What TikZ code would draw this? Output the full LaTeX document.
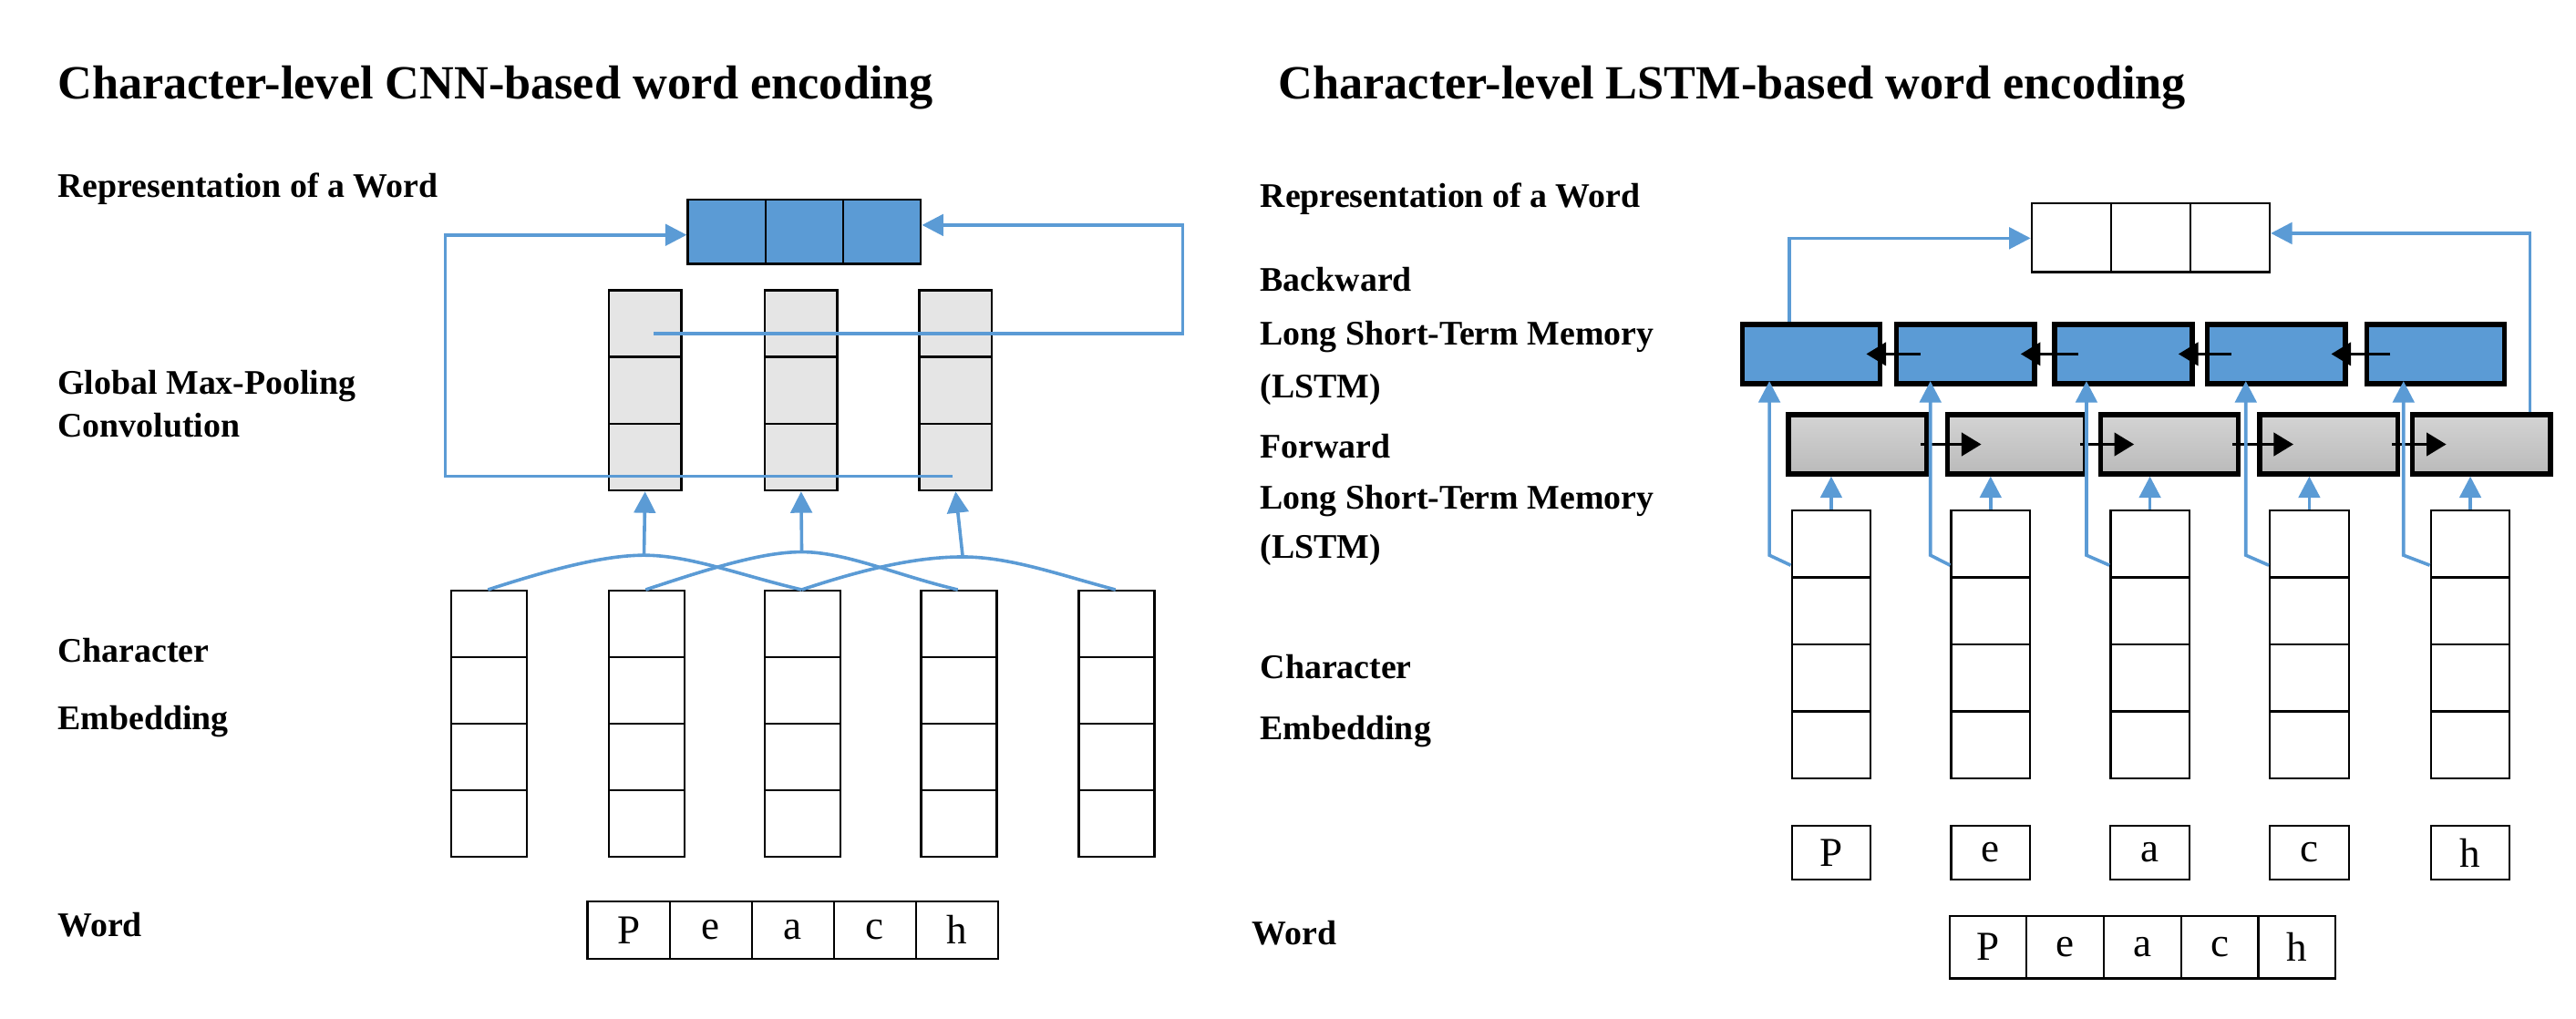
\documentclass[tikz,border=0pt]{standalone}
\usepackage{fontspec}
\setmainfont{Liberation Serif}
\usetikzlibrary{arrows.meta}
\definecolor{bl}{HTML}{5B9BD5}
\begin{document}
\begin{tikzpicture}[x=1pt,y=-1pt,
  cell/.style={draw=black,line width=1.3pt,minimum width=#1,minimum height=40.5pt,inner sep=0pt,anchor=north west},
  lbl/.style={anchor=base west,font=\fontsize{21}{24}\selectfont\bfseries,inner sep=0pt},
  ttl/.style={anchor=base west,font=\fontsize{29}{32}\selectfont\bfseries,inner sep=0pt},
  ch/.style={draw=black,line width=1.2pt,anchor=north west,inner sep=0pt,font=\fontsize{25}{28}\selectfont},
  blu/.style={draw=bl,line width=2pt},
  barr/.style={blu,-{Triangle[width=13pt,length=13pt]}},
  karr/.style={draw=black,line width=2pt,-{Triangle[width=14pt,length=12pt]}},
  lstm/.style={draw=black,line width=3pt,anchor=north west,inner sep=0pt,minimum height=36pt,minimum width=84pt}]
\useasboundingbox (0,0) rectangle (1568,620);
% ---------- left ----------
\node[ttl] (t1) at (35,60) {Character-level CNN-based word encoding};
\node[lbl] (l1) at (35,120) {Representation of a Word};
\node[lbl] (l2) at (35,240) {Global Max-Pooling};
\node[lbl] (l3) at (35,266) {Convolution};
\node[lbl] (l4) at (35,403) {Character};
\node[lbl] (l5) at (35,444) {Embedding};
\node[lbl] (l6) at (35,570) {Word};
% rep box
\foreach \i in {0,1,2}{\node[cell=47.3pt,minimum height=39pt,fill=bl] (rA\i) at (418+47.3*\i,121) {};}
% conv columns
\foreach \c/\x in {0/370,1/465,2/559}{
  \foreach \j in {0,1,2}{\node[cell=44pt,fill=black!10] (cv\c\j) at (\x,176+40.7*\j) {};}}
% char embedding left
\foreach \c/\x in {0/274,1/370,2/465,3/560,4/656}{
  \foreach \j in {0,1,2,3}{\node[cell=46pt] (ce\c\j) at (\x,359+40.5*\j) {};}}
% word box
\foreach \i/\t in {0/P,1/e,2/a,3/c,4/h}{\node[ch,minimum width=50pt,minimum height=35pt] (wA\i) at (357+50*\i,548) {\t};}
% curves
\coordinate (k0) at (297,359); \coordinate (k1) at (393,359); \coordinate (k2) at (488,359);
\coordinate (k3) at (583,359); \coordinate (k4) at (679,359);
\coordinate (p0) at (392,338); \coordinate (p1) at (488,336); \coordinate (p2) at (586,339);
\draw[blu] (k0) .. controls (340,345) and (370,338) .. (p0) .. controls (420,338) and (450,350) .. (k2);
\draw[blu] (k1) .. controls (435,345) and (465,336) .. (p1) .. controls (515,336) and (545,350) .. (k3);
\draw[blu] (k2) .. controls (530,345) and (560,339) .. (p2) .. controls (615,339) and (645,350) .. (k4);
\draw[barr] (p0) -- (cv02.south);
\draw[barr] (p1) -- (cv12.south);
\draw[barr] (p2) -- (cv22.south);
% loops
\coordinate (a1) at (398,203); \coordinate (a2) at (580,290);
\draw[barr] (a1) -- (720,203) -- (720,137) -- (rA2.east |- 0,137);
\draw[barr] (a2) -- (271,290) -- (271,143) -- (rA0.west |- 0,143);
% ---------- right ----------
\node[ttl] (t2) at (778,60) {Character-level LSTM-based word encoding};
\node[lbl] (m1) at (767,126) {Representation of a Word};
\node[lbl] (m2) at (767,177) {Backward};
\node[lbl] (m3) at (767,210) {Long Short-Term Memory};
\node[lbl] (m4) at (767,242) {(LSTM)};
\node[lbl] (m5) at (767,279) {Forward};
\node[lbl] (m6) at (767,310) {Long Short-Term Memory};
\node[lbl] (m7) at (767,340) {(LSTM)};
\node[lbl] (m8) at (767,413) {Character};
\node[lbl] (m9) at (767,450) {Embedding};
\node[lbl] (m10) at (762,575) {Word};
\foreach \i in {0,1,2}{\node[cell=48.3pt,minimum height=42pt,fill=white] (rB\i) at (1236+48.3*\i,123) {};}
% backward
\foreach \i/\x in {0/1059,1/1153,2/1249,3/1342,4/1439}{\node[lstm,fill=bl] (bw\i) at (\x,196) {};}
% forward
\foreach \i/\x in {0/1087,1/1184,2/1277,3/1374,4/1467}{\node[lstm,top color=black!17,bottom color=black!27] (fw\i) at (\x,251) {};}
% char columns right
\foreach \c/\x in {0/1090,1/1187,2/1284,3/1381,4/1479}{
  \foreach \j in {0,1,2,3}{\node[cell=48pt,minimum height=40.8pt] (cr\c\j) at (\x,310+40.8*\j) {};}}
\foreach \i/\x/\t in {0/1090/P,1/1187/e,2/1284/a,3/1381/c,4/1479/h}{\node[ch,minimum width=48pt,minimum height=33pt] (lt\i) at (\x,502) {\t};}
\foreach \i/\t in {0/P,1/e,2/a,3/c,4/h}{\node[ch,minimum width=47pt,minimum height=38pt] (wB\i) at (1186+47*\i,557) {\t};}
% arrows in rows
\foreach \a/\b in {0/1,1/2,2/3,3/4}{
  \draw[karr] ([xshift=16pt]bw\b.west) -- ([xshift=-10pt]bw\a.east);
  \draw[karr] ([xshift=-5pt]fw\a.east) -- ([xshift=22pt]fw\b.west);}
% forward inputs
\foreach \i in {0,...,4}{\draw[barr] (cr\i0.north) -- (fw\i.south -| cr\i0.north);}
% backward inputs
\foreach \i/\x in {0/1077,1/1175,2/1270,3/1367,4/1463}{
  \draw[barr] ([yshift=8pt]cr\i0.south west) -- (\x,338) -- (\x,232);}
% loops to rep
\draw[barr] (bw0.north -| 1089,0) -- (1089,145) -- (rB0.west |- 0,145);
\draw[barr] (fw4.north -| 1540,0) -- (1540,142) -- (rB2.east |- 0,142);
\end{tikzpicture}
\end{document}
